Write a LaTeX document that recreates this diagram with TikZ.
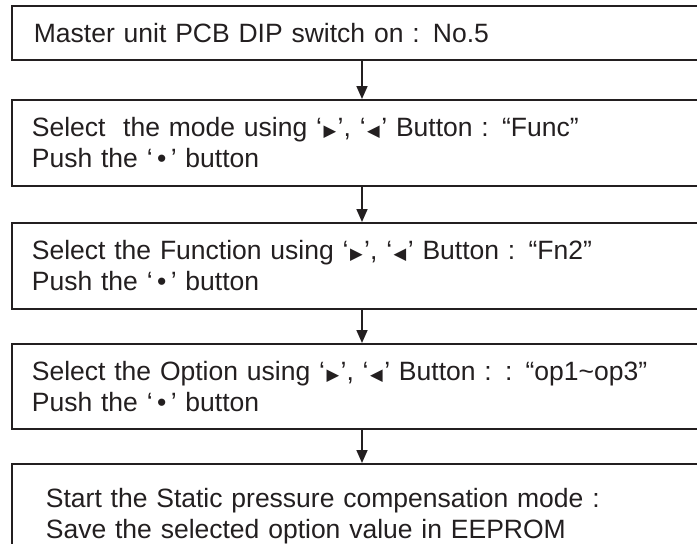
\documentclass[tikz,border=0pt]{standalone}
\usepackage{fontspec}
\setmainfont{Liberation Sans}
\newfontfamily\symfont{DejaVu Sans}
\usetikzlibrary{arrows.meta}
\definecolor{ink}{RGB}{35,31,32}
\newcommand{\rtri}{\kern1.5pt{\symfont\scalebox{0.62}{▶}}\kern1.5pt}
\newcommand{\ltri}{\kern1.5pt{\symfont\scalebox{0.62}{◀}}\kern1.5pt}
\newcommand{\bdot}{\,•\,}
\begin{document}
\begin{tikzpicture}[x=1pt,y=-1pt,
  stepbox/.style={draw=ink, line width=1.8pt, rectangle, anchor=north west,
    minimum width=720pt, inner xsep=20pt, text width=680pt, align=left,
    font=\fontsize{26.5}{31}\selectfont, text=ink},
  arr/.style={draw=ink, line width=1.6pt, -{Triangle[length=13pt,width=11pt]}}]
\useasboundingbox (0,0) rectangle (697,544);
\clip (0,0) rectangle (697,544);
\fill[white] (0,0) rectangle (697,544);
\coordinate (ax) at (362,0);
\node[stepbox, minimum height=54pt, inner xsep=22pt] (b1) at (11,5)
  {Master unit PCB DIP switch on : No.5};
\node[stepbox, minimum height=86pt] (b2) at (11,99)
  {Select\ \ the mode using ‘\rtri’, ‘\ltri’ Button : “Func”\\Push the ‘\bdot’ button};
\node[stepbox, minimum height=86pt] (b3) at (11,222)
  {Select the Function using ‘\rtri’, ‘\ltri’ Button : “Fn2”\\Push the ‘\bdot’ button};
\node[stepbox, minimum height=85pt] (b4) at (11,343)
  {Select the Option using ‘\rtri’, ‘\ltri’ Button : : “op1\textasciitilde op3”\\Push the ‘\bdot’ button};
\node[stepbox, minimum height=105pt, inner xsep=34pt, text width=652pt] (b5) at (11,463)
  {Start the Static pressure compensation mode :\\Save the selected option value in EEPROM};
\draw[arr] (b1.south -| ax) -- (b2.north -| ax);
\draw[arr] (b2.south -| ax) -- (b3.north -| ax);
\draw[arr] (b3.south -| ax) -- (b4.north -| ax);
\draw[arr] (b4.south -| ax) -- (b5.north -| ax);
\end{tikzpicture}
\end{document}
